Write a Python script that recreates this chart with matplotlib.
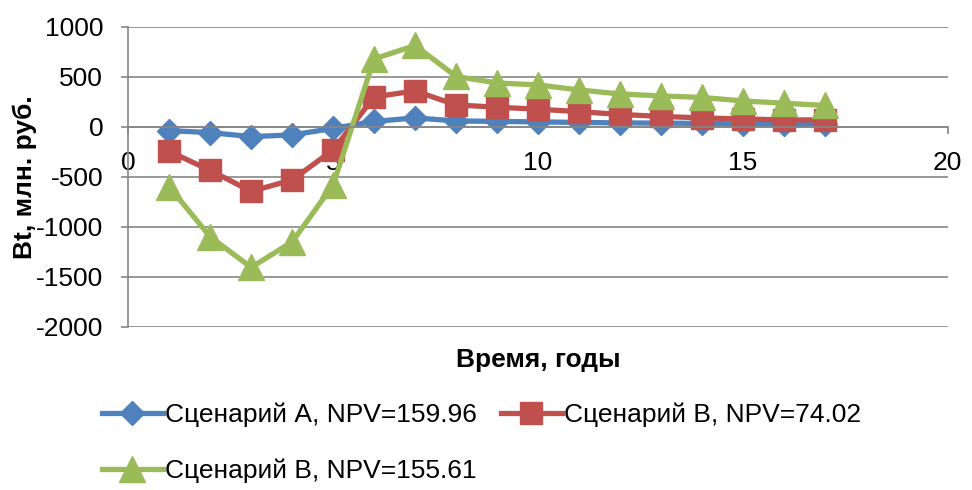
import matplotlib
matplotlib.use("Agg")
import matplotlib.pyplot as plt

# ===============================
# Data
# ===============================
years = list(range(1, 18))

scen_a = [-37, -57, -97, -80, -15, 55, 90, 60, 55, 50, 45, 40, 38, 35, 30, 28, 25]
scen_b = [-245, -435, -645, -530, -230, 300, 360, 220, 197, 177, 153, 125, 105, 90, 80, 70, 70]
scen_v = [-600, -1100, -1405, -1150, -580, 680, 815, 505, 440, 420, 370, 330, 310, 295, 260, 237, 215]

labels = ["Сценарий А, NPV=159.96", "Сценарий В, NPV=74.02", "Сценарий В, NPV=155.61"]
x_ticks = [0, 5, 10, 15, 20]
y_ticks = [-2000, -1500, -1000, -500, 0, 500, 1000]

# ===============================
# Style
# ===============================
plt.rcParams['font.family'] = ['Liberation Sans', 'DejaVu Sans']
plt.rcParams['axes.unicode_minus'] = False
fs = 19

fig = plt.figure(figsize=(9.72, 4.9), dpi=100)
ax = fig.add_axes([0.132, 0.333, 0.843, 0.612])

la, = ax.plot(years, scen_a, color='#4F81BD', lw=3.8, marker='D', ms=12, label=labels[0])
lb, = ax.plot(years, scen_b, color='#C0504D', lw=3.8, marker='s', ms=16, label=labels[1])
lv, = ax.plot(years, scen_v, color='#9BBB59', lw=3.8, marker='^', ms=19, label=labels[2])

ax.set_xlim(0, 20)
ax.set_ylim(-2000, 1000)
ax.set_xticks(x_ticks)
ax.set_yticks(y_ticks)
ax.tick_params(axis='both', labelsize=fs, labelcolor='#000000', color='#868686',
               length=5, width=1.2)
ax.tick_params(axis='y', pad=13)
ax.tick_params(axis='x', pad=12)

ax.yaxis.grid(True, color='#868686', lw=1.2)
ax.set_axisbelow(True)
for s in ['top', 'right']:
    ax.spines[s].set_visible(False)
ax.spines['left'].set_color('#868686')
ax.spines['left'].set_linewidth(1.2)
ax.spines['bottom'].set_position(('data', 0))
ax.spines['bottom'].set_color('#868686')
ax.spines['bottom'].set_linewidth(1.2)

ax.set_xlabel("Время, годы", fontsize=fs, fontweight='bold', labelpad=0)
ax.xaxis.set_label_coords(0.5, -0.07)
ax.set_ylabel("Bt, млн. руб.", fontsize=fs, fontweight='bold')
ax.yaxis.set_label_coords(-0.112, 0.5)

# row-major order: A, B on the first row, V on the second
fig.legend([la, lv, lb], [labels[0], labels[2], labels[1]],
           loc='upper left', bbox_to_anchor=(0.105, 0.178), ncol=2, frameon=False,
           fontsize=fs, handlelength=2.3, handletextpad=0.1, columnspacing=0.9,
           labelspacing=1.2, borderpad=0, borderaxespad=0)

fig.savefig("out.png", dpi=100)
